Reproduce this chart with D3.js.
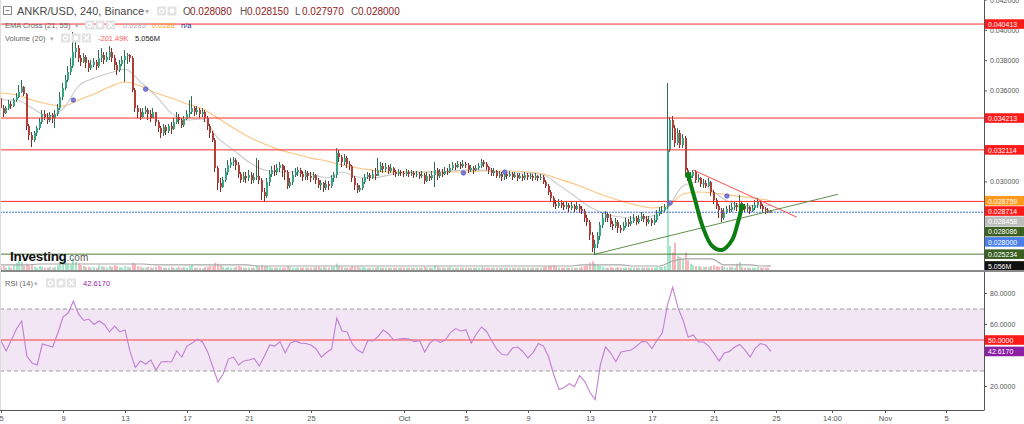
<!DOCTYPE html>
<html><head><meta charset="utf-8">
<script src="https://cdn.jsdelivr.net/npm/d3@7"></script>
<style>
html,body{margin:0;padding:0;background:#fff;}
svg{display:block;font-family:"Liberation Sans",Arial,sans-serif;}
</style></head><body>
<svg id="chart" width="1024" height="424"></svg>
<script>
// ================= DATA =================
const barStart = "2019-09-05T00:00:00Z";
const barMinutes = 240;
const firstOpen = 0.03553;
const closes = [
0.03487,0.03454,0.03487,0.03514,0.03500,0.03540,0.03560,0.03593,0.03626,0.03580,
0.03369,0.03309,0.03276,0.03322,0.03355,0.03395,0.03448,0.03428,0.03408,0.03441,
0.03421,0.03448,0.03487,0.03560,0.03619,0.03672,0.03725,0.03764,0.03857,0.03883,
0.03817,0.03791,0.03824,0.03784,0.03751,0.03771,0.03791,0.03764,0.03817,0.03837,
0.03804,0.03824,0.03857,0.03817,0.03771,0.03738,0.03778,0.03804,0.03830,0.03837,
0.03817,0.03606,0.03487,0.03461,0.03428,0.03461,0.03474,0.03448,0.03421,0.03461,
0.03395,0.03355,0.03322,0.03362,0.03336,0.03369,0.03349,0.03395,0.03428,0.03408,
0.03375,0.03415,0.03448,0.03461,0.03487,0.03461,0.03474,0.03448,0.03461,0.03421,
0.03369,0.03322,0.03276,0.03092,0.02993,0.02966,0.03012,0.03065,0.03111,0.03131,
0.03144,0.03111,0.03052,0.03012,0.03039,0.03026,0.03045,0.03012,0.03032,0.03039,
0.03012,0.02933,0.02907,0.02999,0.03052,0.03078,0.03065,0.03092,0.03111,0.03078,
0.03065,0.02973,0.02999,0.03045,0.03065,0.03078,0.03052,0.03032,0.03059,0.03039,
0.03026,0.03045,0.03012,0.02979,0.02993,0.02960,0.02986,0.02973,0.03026,0.03045,
0.03190,0.03164,0.03131,0.03157,0.03118,0.03105,0.03026,0.02979,0.02946,0.02960,
0.02999,0.03032,0.03045,0.03026,0.03052,0.03039,0.03078,0.03105,0.03085,0.03098,
0.03072,0.03092,0.03065,0.03052,0.03065,0.03059,0.03052,0.03065,0.03052,0.03059,
0.03045,0.03052,0.03039,0.03045,0.03006,0.03039,0.03026,0.03045,0.03078,0.03039,
0.03065,0.03052,0.03072,0.03065,0.03092,0.03111,0.03098,0.03118,0.03105,0.03118,
0.03111,0.03078,0.03092,0.03078,0.03092,0.03105,0.03131,0.03118,0.03098,0.03078,
0.03059,0.03072,0.03039,0.03052,0.03032,0.03052,0.03039,0.03052,0.03032,0.03045,
0.03026,0.03039,0.03026,0.03045,0.03032,0.03039,0.03026,0.03039,0.03026,0.03032,
0.02999,0.02973,0.02933,0.02894,0.02854,0.02841,0.02861,0.02847,0.02834,0.02847,
0.02828,0.02841,0.02821,0.02841,0.02821,0.02808,0.02762,0.02735,0.02650,0.02564,
0.02590,0.02643,0.02716,0.02762,0.02788,0.02762,0.02722,0.02709,0.02735,0.02696,
0.02683,0.02709,0.02735,0.02722,0.02742,0.02762,0.02735,0.02755,0.02775,0.02755,
0.02735,0.02749,0.02729,0.02749,0.02788,0.02808,0.02814,0.02834,0.03210,0.03408,
0.03355,0.03256,0.03322,0.03243,0.03289,0.03078,0.03026,0.03039,0.03065,0.03012,
0.03026,0.02986,0.02993,0.02973,0.02999,0.02933,0.02880,0.02841,0.02814,0.02762,
0.02801,0.02821,0.02814,0.02834,0.02847,0.02834,0.02861,0.02841,0.02821,0.02834,
0.02808,0.02828,0.02847,0.02867,0.02841,0.02821,0.02814,0.02808,0.02800];
const highs = [
0.03566,0.03507,0.03500,0.03540,0.03533,0.03553,0.03586,0.03639,0.03672,0.03632,
0.03586,0.03382,0.03329,0.03336,0.03369,0.03421,0.03474,0.03474,0.03454,0.03461,
0.03454,0.03474,0.03514,0.03593,0.03652,0.03705,0.03764,0.03817,0.03989,0.03936,
0.03903,0.03837,0.03850,0.03837,0.03804,0.03804,0.03817,0.03804,0.03870,0.03883,
0.03857,0.03857,0.03896,0.03883,0.03837,0.03791,0.03804,0.03830,0.03870,0.03850,
0.03843,0.03830,0.03619,0.03507,0.03487,0.03487,0.03500,0.03487,0.03474,0.03487,
0.03461,0.03408,0.03369,0.03382,0.03375,0.03382,0.03395,0.03421,0.03461,0.03448,
0.03421,0.03435,0.03474,0.03540,0.03566,0.03500,0.03500,0.03487,0.03487,0.03474,
0.03435,0.03382,0.03336,0.03289,0.03105,0.03026,0.03032,0.03092,0.03144,0.03157,
0.03164,0.03157,0.03131,0.03065,0.03065,0.03065,0.03078,0.03065,0.03059,0.03157,
0.03144,0.03026,0.02960,0.03026,0.03078,0.03105,0.03111,0.03118,0.03131,0.03118,
0.03105,0.03078,0.03026,0.03072,0.03092,0.03098,0.03092,0.03072,0.03078,0.03072,
0.03065,0.03065,0.03052,0.03026,0.03012,0.02999,0.03012,0.03006,0.03045,0.03065,
0.03223,0.03210,0.03177,0.03184,0.03171,0.03138,0.03111,0.03039,0.02993,0.02979,
0.03026,0.03052,0.03065,0.03059,0.03078,0.03092,0.03157,0.03131,0.03125,0.03125,
0.03111,0.03118,0.03098,0.03078,0.03085,0.03078,0.03072,0.03085,0.03078,0.03078,
0.03072,0.03072,0.03065,0.03072,0.03059,0.03065,0.03052,0.03072,0.03131,0.03092,
0.03085,0.03085,0.03098,0.03092,0.03118,0.03131,0.03125,0.03138,0.03131,0.03144,
0.03131,0.03125,0.03111,0.03105,0.03111,0.03125,0.03151,0.03144,0.03131,0.03105,
0.03092,0.03092,0.03078,0.03072,0.03065,0.03072,0.03065,0.03072,0.03065,0.03065,
0.03059,0.03059,0.03052,0.03065,0.03059,0.03059,0.03052,0.03059,0.03045,0.03052,
0.03045,0.03012,0.02986,0.02946,0.02907,0.02880,0.02887,0.02880,0.02867,0.02874,
0.02861,0.02867,0.02854,0.02867,0.02854,0.02841,0.02821,0.02782,0.02749,0.02669,
0.02617,0.02669,0.02735,0.02795,0.02808,0.02801,0.02788,0.02742,0.02762,0.02749,
0.02716,0.02735,0.02762,0.02755,0.02775,0.02788,0.02775,0.02782,0.02801,0.02788,
0.02775,0.02775,0.02762,0.02782,0.02814,0.02834,0.02841,0.02854,0.03652,0.03428,
0.03435,0.03375,0.03355,0.03342,0.03316,0.03303,0.03092,0.03065,0.03078,0.03078,
0.03052,0.03032,0.03019,0.03012,0.03026,0.03006,0.02946,0.02894,0.02854,0.02828,
0.02828,0.02841,0.02847,0.02861,0.02867,0.02861,0.02913,0.02874,0.02854,0.02861,
0.02841,0.02847,0.02880,0.02894,0.02874,0.02854,0.02834,0.02828,0.02815];
const lows = [
0.03474,0.03428,0.03448,0.03474,0.03481,0.03494,0.03527,0.03553,0.03586,0.03566,
0.03342,0.03276,0.03230,0.03263,0.03303,0.03342,0.03382,0.03408,0.03382,0.03395,
0.03388,0.03355,0.03435,0.03474,0.03540,0.03606,0.03659,0.03705,0.03751,0.03817,
0.03791,0.03764,0.03784,0.03751,0.03725,0.03738,0.03758,0.03738,0.03751,0.03791,
0.03778,0.03791,0.03804,0.03791,0.03738,0.03705,0.03725,0.03764,0.03659,0.03778,
0.03791,0.03593,0.03461,0.03421,0.03408,0.03421,0.03448,0.03408,0.03395,0.03421,
0.03369,0.03329,0.03289,0.03303,0.03309,0.03322,0.03316,0.03342,0.03382,0.03382,
0.03355,0.03362,0.03408,0.03421,0.03448,0.03435,0.03441,0.03421,0.03428,0.03395,
0.03342,0.03289,0.03263,0.03065,0.02946,0.02933,0.02960,0.02999,0.03045,0.03092,
0.03105,0.03078,0.03026,0.02993,0.02999,0.02993,0.03006,0.02986,0.02993,0.03012,
0.02986,0.02880,0.02867,0.02894,0.02973,0.03032,0.03039,0.03045,0.03065,0.03032,
0.03012,0.02953,0.02960,0.02979,0.03032,0.03039,0.03032,0.03006,0.03012,0.03012,
0.02999,0.03012,0.02986,0.02960,0.02946,0.02933,0.02946,0.02946,0.02960,0.02999,
0.03026,0.03131,0.03098,0.03111,0.03092,0.03078,0.02999,0.02946,0.02927,0.02933,
0.02946,0.02986,0.03019,0.03006,0.03019,0.03012,0.03039,0.03065,0.03059,0.03065,
0.03052,0.03059,0.03045,0.03032,0.03039,0.03039,0.03032,0.03039,0.03032,0.03039,
0.03026,0.03032,0.03019,0.03026,0.02986,0.02999,0.03006,0.03012,0.02966,0.03012,
0.03026,0.03032,0.03045,0.03045,0.03059,0.03078,0.03078,0.03092,0.03085,0.03092,
0.03092,0.03059,0.03065,0.03052,0.03072,0.03078,0.03092,0.03098,0.03078,0.03052,
0.03039,0.03039,0.03026,0.03026,0.03006,0.03012,0.03019,0.03032,0.03012,0.03026,
0.03006,0.03019,0.03006,0.03012,0.03012,0.03019,0.03006,0.03012,0.03006,0.03012,
0.02986,0.02960,0.02913,0.02874,0.02834,0.02821,0.02828,0.02828,0.02814,0.02821,
0.02801,0.02814,0.02801,0.02814,0.02795,0.02788,0.02735,0.02709,0.02617,0.02537,
0.02518,0.02564,0.02617,0.02696,0.02735,0.02735,0.02702,0.02683,0.02696,0.02663,
0.02663,0.02676,0.02696,0.02702,0.02709,0.02729,0.02716,0.02722,0.02742,0.02735,
0.02709,0.02722,0.02709,0.02716,0.02735,0.02775,0.02788,0.02801,0.02821,0.03197,
0.03276,0.03230,0.03243,0.03223,0.03223,0.03052,0.03006,0.03012,0.03026,0.02993,
0.02999,0.02966,0.02960,0.02960,0.02966,0.02907,0.02854,0.02821,0.02762,0.02735,
0.02749,0.02788,0.02795,0.02801,0.02814,0.02808,0.02814,0.02821,0.02801,0.02801,
0.02788,0.02801,0.02814,0.02828,0.02821,0.02795,0.02788,0.02795,0.02797];
const volumesM = [
4,5,3,4,3,6,9,12,10,5, 8,6,7,4,3,5,4,3,3,4, 3,4,6,10,14,9,8,7,15,10,
8,6,5,4,4,3,4,3,6,5, 4,3,5,4,6,5,4,3,5,4, 3,9,8,5,4,3,3,4,3,3,
4,5,4,3,3,3,4,3,3,4, 3,4,3,5,6,3,3,3,2,4, 4,5,5,9,8,6,4,3,4,3,
3,4,5,4,3,3,3,3,3,5, 4,6,5,5,4,3,3,3,3,3, 3,5,4,3,3,3,3,3,3,3,
3,3,4,4,3,4,3,3,4,4, 8,5,4,3,3,3,5,4,4,3, 4,3,3,3,3,3,4,3,3,3,
3,3,3,3,3,3,3,3,3,3, 3,3,3,3,4,3,3,3,6,4, 3,3,3,3,4,3,3,3,3,3,
3,3,3,3,3,3,4,3,3,3, 3,3,3,3,3,3,3,3,3,3, 3,3,3,3,3,3,3,3,3,3,
4,4,5,5,6,4,3,3,3,3, 3,3,3,3,3,4,5,6,9,11, 8,6,5,4,3,3,4,3,3,4,
3,3,3,3,3,3,3,3,3,3, 3,3,3,3,4,4,4,5,79,30, 22,34,18,16,14,22,12,8,6,5,
5,4,4,4,4,5,6,5,4,5, 4,3,4,4,3,8,10,4,3,3, 3,3,3,4,3,3,3,3,0.2];
const emaStep = 6;
const ema21 = [0.03540,0.03540,0.03487,0.03435,0.03481,0.03632,0.03685,0.03718,0.03744,0.03659,
0.03566,0.03454,0.03408,0.03415,0.03289,0.03210,0.03131,0.03078,0.03065,0.03065,
0.03052,0.03026,0.03065,0.03032,0.03026,0.03045,0.03059,0.03065,0.03065,0.03072,
0.03078,0.03078,0.03065,0.03059,0.03059,0.03045,0.02979,0.02907,0.02834,0.02788,
0.02768,0.02762,0.02775,0.02828,0.02973,0.02999,0.02933,0.02867,0.02847,0.02841,0.028458];
const ema55 = [0.03586,0.03573,0.03540,0.03514,0.03500,0.03540,0.03580,0.03626,0.03659,0.03632,
0.03586,0.03553,0.03514,0.03481,0.03421,0.03355,0.03296,0.03250,0.03210,0.03184,
0.03157,0.03138,0.03111,0.03092,0.03078,0.03065,0.03065,0.03065,0.03065,0.03065,
0.03065,0.03072,0.03072,0.03072,0.03065,0.03052,0.03019,0.02986,0.02946,0.02907,
0.02874,0.02847,0.02828,0.02841,0.02920,0.02933,0.02927,0.02913,0.02900,0.02887,0.028759];
const volSmaStep = 5;
const volSmaM = [6.3,6.3,6.3,7.5,7.5,7.5,7.5,7.5,7.5,7.5,7.5,7.5,
6.3,6.3,6.3,6.3,6.3,6.3,6.3,6.3,5,5,5,5,
5,5,5,5,5,5,5,5,5,5,5,5,
5,5,5,5,5,5,5,5,5,6.3,6.3,6.3,
6.3,5,5,5,11.3,13.8,13.8,13.8,6.3,6.3,6.3,5,5.056];
const rsiStep = 2;
const rsi14 = [49.4,42.9,50,57.1,62.3,39.7,35.2,33.9,47.4,46.5,
45.5,54.5,64.8,67.4,75,66.8,62.6,63.5,60,62.3,
60,55.2,59,55.2,56.5,42.3,32.3,36.5,34.5,37.1,
30.6,35.8,36.1,35.8,42.9,39,46.1,48,50.6,48.7,
42.3,32.6,22.9,28.1,37.7,39,33.9,36.5,37.1,38.1,
33.2,39.7,46.8,46.1,49,41.6,48,49.4,48,47.7,
46.8,44.2,39,41.9,44.2,64.2,55.8,55.2,47.4,43.5,
41.6,49.7,49.4,52.3,56.5,53.9,50,50.6,51,50.6,
49,49.7,42.3,48,50.6,48.4,50,54.8,57.4,55.8,
56.5,48,53.9,58.4,55.5,49.4,43.9,40.6,40.3,44.8,
45.5,42.6,38.4,41.9,47.7,46.1,39,27.4,18.1,19.4,
21.9,19.8,27.1,23.2,16.1,11.5,33.9,45.5,41.6,36.1,
42.3,42.9,43.5,46.1,49,48.7,44.5,50,54.5,72.6,
84,71,62.9,51.9,53.2,48.7,48.7,46.1,41.3,36.5,
41.6,42.6,45.5,47.1,43.5,39,44.8,47.7,46.8,42.617];
const crossBars = [28,56,179,195,259,281];
const crossPrices = [0.03540,0.03612,0.03059,0.03065,0.02861,0.02907];
const resistanceLevels = [0.040413,0.034213,0.032114,0.028714];
const supportLevel = 0.025234;
const lastPrice = 0.028000;
const trendUp = [[230,0.025234],[324,0.029186]];
const trendDown = [[268,0.03078],[308,0.02768]];
const cupStroke = [[266,0.03045],[268.7,0.02880],[271.8,0.02696],[275.3,0.02577],[279.1,0.02551],[283,0.02617],[285.3,0.02735],[286.8,0.02834]];
const priceTicks = [0.042,0.040,0.038,0.036,0.034,0.032,0.030,0.028,0.026];
const rsiTicks = [80,60,40,20];
const dateTicks = ["2019-09-05T00:00Z","2019-09-09T00:00Z","2019-09-13T00:00Z","2019-09-17T00:00Z","2019-09-21T00:00Z","2019-09-25T00:00Z","2019-10-01T00:00Z","2019-10-05T00:00Z","2019-10-09T00:00Z","2019-10-13T00:00Z","2019-10-17T00:00Z","2019-10-21T00:00Z","2019-10-25T00:00Z","2019-10-28T14:00Z","2019-11-01T00:00Z","2019-11-05T00:00Z"];
const dateLabels = ["5","9","13","17","21","25","Oct","5","9","13","17","21","25","14:00","Nov","5"];
const tagValues = [0.040413,0.034213,0.032114,0.028759,0.028714,0.028458,0.028086,0.028000,0.025234];
const tagKinds  = ["level","level","level","ema55","level","ema21","trend","last","support"];
const volSmaLast = 5.056;
const rsiLast = 42.617;
const ohlcLast = {O:0.028080,H:0.028150,L:0.027970,C:0.028000};
const emaLegend = [0.0285,0.0288];

// ================= CHART =================
const svg = d3.select("#chart");
const PR = 984;
const t0 = Date.parse(barStart), barMs = barMinutes*60000;
const barTime = i => new Date(t0 + i*barMs);
const x = d3.scaleUtc().domain([new Date("2019-09-09T00:00:00Z"), new Date("2019-10-25T00:00:00Z")]).range([63, 776]);
const yP = d3.scaleLinear().domain([0.025, 0.042]).range([257.7, 0]);
const yV = d3.scaleLinear().domain([0, 85]).range([270, 202]);
const yR = d3.scaleLinear().domain([0, 100]).range([417.5, 262.5]);
const bx = i => x(barTime(i));
const nBars = closes.length;
const bars = closes.map((c,i)=>({i, o: i ? closes[i-1] : firstOpen, h: highs[i], l: lows[i], c, v: volumesM[i]}));

const defs = svg.append("defs");
defs.append("clipPath").attr("id","cm").append("rect").attr("x",0).attr("y",0).attr("width",PR).attr("height",270);
defs.append("clipPath").attr("id","cr").append("rect").attr("x",0).attr("y",272).attr("width",PR).attr("height",138);

// ---- RSI panel ----
const gR = svg.append("g").attr("clip-path","url(#cr)");
gR.append("rect").attr("x",0).attr("width",PR).attr("y",yR(70)).attr("height",yR(30)-yR(70)).attr("fill","#f2e5f4");
[70,30].forEach(v=>gR.append("line").attr("x1",0).attr("x2",PR).attr("y1",yR(v)).attr("y2",yR(v))
  .attr("stroke","#9e9e9e").attr("stroke-dasharray","4,3"));
gR.append("line").attr("x1",0).attr("x2",PR).attr("y1",yR(50)).attr("y2",yR(50)).attr("stroke","#ff3b3b");
gR.append("path").datum(rsi14)
  .attr("d", d3.line().x((d,k)=>bx(Math.min(k*rsiStep,nBars-1))).y(d=>yR(d)))
  .attr("fill","none").attr("stroke","#c27fd3").attr("stroke-width",1.1);

// ---- main panel ----
const gM = svg.append("g").attr("clip-path","url(#cm)");
const up = d=>d.c>=d.o;
gM.append("g").selectAll("rect").data(bars).join("rect")
  .attr("x",d=>Math.round(bx(d.i))-1).attr("width",2)
  .attr("y",d=>yV(d.v)).attr("height",d=>yV(0)-yV(d.v))
  .attr("fill",d=>up(d)?"#a3e6c8":"#f6b6bb");
gM.append("path").datum(volSmaM)
  .attr("d", d3.line().x((d,k)=>bx(Math.min(k*volSmaStep,nBars-1))).y(d=>yV(d)).curve(d3.curveMonotoneX))
  .attr("fill","none").attr("stroke","#a8a8a8").attr("stroke-width",1.2);

const emaLine = d3.line().x((d,k)=>bx(Math.min(k*emaStep,nBars-1))).y(d=>yP(d)).curve(d3.curveMonotoneX);
gM.append("path").datum(ema55).attr("d",emaLine).attr("fill","none").attr("stroke","#ffc37d").attr("stroke-width",1.1);
gM.append("path").datum(ema21).attr("d",emaLine).attr("fill","none").attr("stroke","#c9c9c9").attr("stroke-width",1.1);

const cg = gM.append("g").selectAll("g").data(bars).join("g");
cg.append("line")
  .attr("x1",d=>Math.round(bx(d.i))-0.5).attr("x2",d=>Math.round(bx(d.i))-0.5)
  .attr("y1",d=>yP(Math.max(d.h,d.o,d.c))).attr("y2",d=>yP(Math.min(d.l,d.o,d.c)))
  .attr("stroke",d=>up(d)?"#2e6b52":"#7d2b27").attr("stroke-width",1);
cg.append("rect")
  .attr("x",d=>Math.round(bx(d.i))-1).attr("width",2)
  .attr("y",d=>yP(Math.max(d.o,d.c)))
  .attr("height",d=>Math.max(1,Math.abs(yP(d.o)-yP(d.c))))
  .attr("fill",d=>up(d)?"#36a583":"#b03f3a");

// horizontal levels
const hline = (v,col,dash,w)=>gM.append("line").attr("x1",0).attr("x2",PR).attr("y1",yP(v)).attr("y2",yP(v))
  .attr("stroke",col).attr("stroke-width",w||1).attr("stroke-dasharray",dash||null);
resistanceLevels.forEach(v=>hline(v,"#ff2b2b"));
hline(supportLevel,"#4f7d3a");
hline(lastPrice,"#3f6fd8","2,1");

// trend lines
const tl = d3.line().x(d=>bx(d[0])).y(d=>yP(d[1]));
gM.append("path").datum(trendUp).attr("d",tl).attr("stroke","#5f8f4a").attr("stroke-width",1).attr("fill","none");
gM.append("path").datum(trendDown).attr("d",tl).attr("stroke","#ff4d4d").attr("stroke-width",1).attr("fill","none");

// cup stroke
gM.append("path").datum(cupStroke).attr("d",d3.line().x(d=>bx(d[0])).y(d=>yP(d[1])).curve(d3.curveCatmullRom))
  .attr("fill","none").attr("stroke","#0c7d10").attr("stroke-width",4).attr("stroke-linecap","round");
[cupStroke[0],cupStroke[cupStroke.length-1]].forEach(p=>gM.append("circle").attr("cx",bx(p[0])).attr("cy",yP(p[1])).attr("r",3.2).attr("fill","#0c7d10"));

// cross markers
crossBars.forEach((b,k)=>{
  gM.append("circle").attr("cx",bx(b)).attr("cy",yP(crossPrices[k])).attr("r",2.3).attr("fill","#7c7cd8").attr("stroke","#4b4bb0").attr("stroke-width",0.6);
});

// ---- frame ----
svg.append("line").attr("x1",0).attr("x2",PR).attr("y1",271).attr("y2",271).attr("stroke","#8a8a8a").attr("stroke-width",2);
svg.append("line").attr("x1",PR+0.5).attr("x2",PR+0.5).attr("y1",0).attr("y2",410).attr("stroke","#555");
svg.append("line").attr("x1",0).attr("x2",PR+0.5).attr("y1",410.5).attr("y2",410.5).attr("stroke","#555");
svg.append("line").attr("x1",0.5).attr("x2",0.5).attr("y1",0).attr("y2",410).attr("stroke","#ddd");

// ---- date axis ----
const fs = 7.5;
dateTicks.forEach((d,k)=>{
  const xx = Math.round(x(new Date(d)))+0.5;
  svg.append("line").attr("x1",xx).attr("x2",xx).attr("y1",410).attr("y2",413).attr("stroke","#555");
  svg.append("text").attr("x",xx).attr("y",418).attr("text-anchor","middle").attr("dominant-baseline","central")
    .attr("font-size",fs).attr("fill","#555").text(dateLabels[k]);
});

// ---- value tags (positions first, so covered tick labels are left out) ----
const f6 = d3.format(".6f"), f4 = d3.format(".4f");
const tagList = [];
const order = tagValues.map((v,k)=>k).sort((a,b)=>tagValues[b]-tagValues[a]);
let prev = -100;
order.forEach(k=>{
  const yy = Math.max(yP(tagValues[k]), prev+10.3);
  prev = yy;
  tagList.push([yy, f6(tagValues[k]), tagKinds[k]]);
});
tagList.push([Math.max(yV(volSmaLast), prev+10.3), d3.format(".4s")(volSmaLast*1e6), "vol"]);
const rsiTagList = [[yR(50), f4(50), "rsi50"], [yR(rsiLast), f4(rsiLast), "rsi"]];
const covered = (yy, list) => list.some(t => Math.abs(t[0]-yy) < 6);

// ---- price axis ----
priceTicks.forEach(v=>{
  const yy = yP(v);
  svg.append("line").attr("x1",PR).attr("x2",PR+3).attr("y1",yy).attr("y2",yy).attr("stroke","#555");
  if(!covered(yy, tagList))
    svg.append("text").attr("x",990).attr("y",yy).attr("dominant-baseline","central").attr("font-size",7).attr("fill","#555").text(f6(v));
});
rsiTicks.forEach(v=>{
  const yy = yR(v);
  svg.append("line").attr("x1",PR).attr("x2",PR+3).attr("y1",yy).attr("y2",yy).attr("stroke","#555");
  if(!covered(yy, rsiTagList))
    svg.append("text").attr("x",990).attr("y",yy).attr("dominant-baseline","central").attr("font-size",7).attr("fill","#555").text(f4(v));
});

const kindStyle = {level:["#ff1a1a","#fff"],ema55:["#ff9a1f","#fff"],ema21:["#bdbdbd","#fff"],trend:["#3b5e22","#fff"],last:["#4b7fe8","#fff"],support:["#3b5e22","#fff"],vol:["#111","#fff"],rsi50:["#ff1a1a","#fff"],rsi:["#8d1fa3","#fff"]};
const tag = (yy,txt,kind)=>{
  const s = kindStyle[kind];
  svg.append("rect").attr("x",PR+1).attr("y",yy-4.8).attr("width",1024-PR-1).attr("height",9.6).attr("fill",s[0]);
  svg.append("text").attr("x",988).attr("y",yy+0.3).attr("dominant-baseline","central").attr("font-size",7).attr("fill",s[1]).text(txt);
};
tagList.forEach(t=>tag(t[0],t[1],t[2]));
svg.append("rect").attr("x",PR+1).attr("y",270).attr("width",1024-PR-1).attr("height",3).attr("fill","#fff");
svg.append("line").attr("x1",PR).attr("x2",1024).attr("y1",271).attr("y2",271).attr("stroke","#8a8a8a").attr("stroke-width",2);
rsiTagList.forEach(t=>tag(t[0],t[1],t[2]));

// ---- legends ----
const icons = (x0,y0,n)=>{
  for(let k=0;k<n;k++){
    const g = svg.append("g").attr("transform",`translate(${x0+k*10.5},${y0-4.5})`);
    g.append("rect").attr("width",9).attr("height",9).attr("fill","#e3e3e3");
    if(k===0) g.append("circle").attr("cx",4.5).attr("cy",4.5).attr("r",2.2).attr("fill","none").attr("stroke","#fff").attr("stroke-width",1.2);
    else if(k===1) g.append("circle").attr("cx",4.5).attr("cy",4.5).attr("r",2.4).attr("fill","#fff");
    else { g.append("path").attr("d","M2,2L7,7M7,2L2,7").attr("stroke","#fff").attr("stroke-width",1.3); }
  }
};
const txt = (x0,y0,s,size,col,weight)=>svg.append("text").attr("x",x0).attr("y",y0).attr("dominant-baseline","central")
  .attr("font-size",size).attr("fill",col).attr("font-weight",weight||"normal").text(s);
// line 1
svg.append("rect").attr("x",3.5).attr("y",6.5).attr("width",8).attr("height",8).attr("fill","none").attr("stroke","#888");
svg.append("line").attr("x1",5.5).attr("x2",9.5).attr("y1",10.5).attr("y2",10.5).attr("stroke","#888");
txt(17,11,"ANKR/USD, 240, Binance",11,"#4a4a4a");
txt(145,11.5,"▾",8,"#b0b0b0");
icons(157,11,2);
[["O",183,ohlcLast.O],["H",240,ohlcLast.H],["L",295,ohlcLast.L],["C",351,ohlcLast.C]].forEach(([l,xx,v])=>{
  txt(xx,11,l,10,"#555");
  txt(xx+7,11,f6(v),10,"#8e1b1b");
});
// line 2
txt(5,25,"EMA Cross (21, 55)",7.5,"#666");
txt(75,25.5,"▾",7,"#b0b0b0");
icons(85,25,3);
txt(123,25,f4(emaLegend[0]),7.5,"#b5b5b5");
txt(152,25,f4(emaLegend[1]),7.5,"#f5a32a");
txt(181,25,"n/a",7.5,"#1a2a8c");
// line 3
txt(5,38,"Volume (20)",7.5,"#666");
txt(50,38.5,"▾",7,"#b0b0b0");
icons(61,38,3);
txt(98,38,"-201.49K",7.5,"#ff5a5a");
txt(135,38,"5.056M",7.5,"#222");
// RSI legend
txt(5,283,"RSI (14)",7.5,"#666");
txt(34,283.5,"▾",7,"#b0b0b0");
icons(46,283,3);
txt(83,283,f4(rsiLast),7.5,"#9c27b0");
// Investing logo
const logo = svg.append("text").attr("x",10).attr("y",261).attr("font-size",13.5).attr("font-weight","bold").attr("fill","#111").attr("letter-spacing",-0.3);
logo.append("tspan").text("Investing");
logo.append("tspan").attr("font-size",10).attr("font-weight","normal").attr("fill","#555").attr("letter-spacing",0).text(".com");
</script>
</body></html>
